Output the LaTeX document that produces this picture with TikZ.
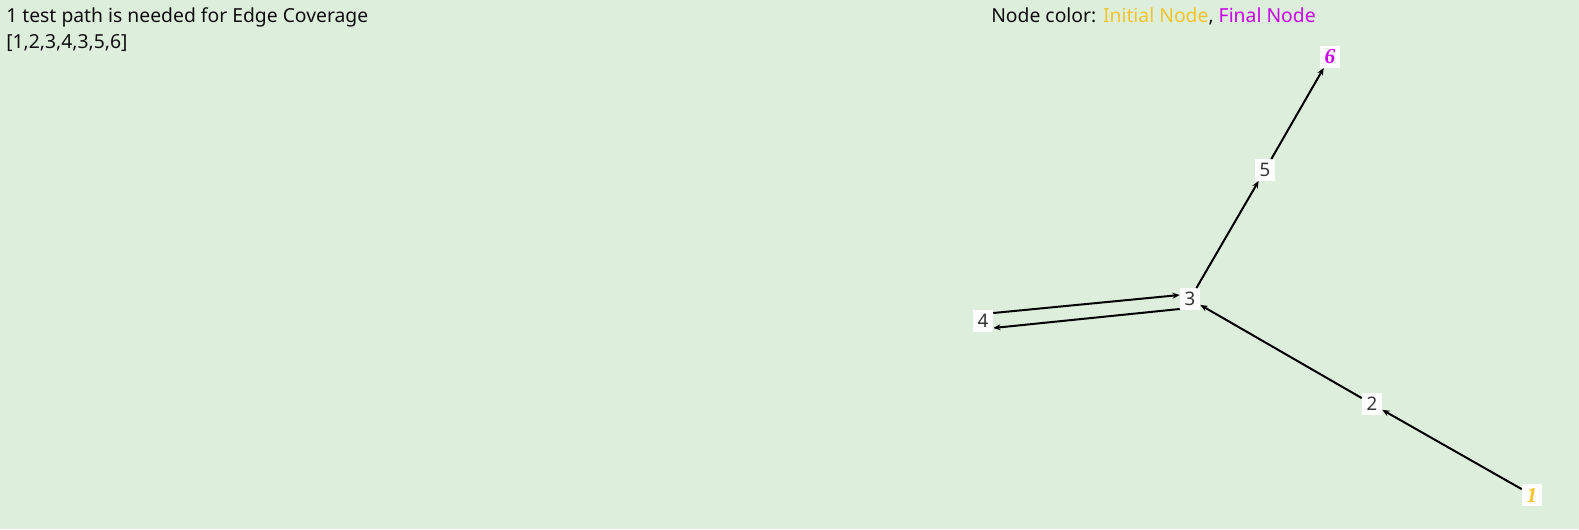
\documentclass[tikz,border=0pt]{standalone}
\usepackage{fontspec}
\setmainfont{Noto Sans}
\newfontfamily\numfont{Liberation Serif}
\usetikzlibrary{arrows.meta,calc}
\definecolor{bgc}{RGB}{221,238,221}
\definecolor{initc}{RGB}{246,196,40}
\definecolor{finalc}{RGB}{200,0,232}
\definecolor{txtc}{RGB}{15,15,15}
\tikzset{
  vbox/.style={fill=white,inner sep=2pt,minimum width=15pt,minimum height=16pt,font=\fontsize{14}{16}\selectfont,text=black!80},
  ebox/.style={vbox,font=\fontsize{16}{16}\numfont\bfseries\itshape},
  edge/.style={draw=black,line width=1.5pt,-{Stealth[length=5.5pt,width=4.5pt]}},
  lbl/.style={anchor=base west,inner sep=0pt,font=\fontsize{14.5}{16}\selectfont,text=txtc}
}
\begin{document}
\begin{tikzpicture}[x=0.75pt,y=-0.75pt]
\fill[bgc] (0,0) rectangle (1579,529);
\useasboundingbox (0,0) rectangle (1579,529);
\node[lbl] (t1) at (6,22) {1 test path is needed for Edge Coverage};
\node[lbl] (t2) at (6,48) {[1,2,3,4,3,5,6]};
\node[lbl] (t3) at (991,22) {Node color: \textcolor{initc}{Initial Node}, \textcolor{finalc}{Final Node}};
\node[ebox,text=finalc] (n6) at (1330,57) {6};
\node[vbox] (n5) at (1265,170) {5};
\node[vbox] (n3) at (1190,299) {3};
\node[vbox] (n4) at (983,321) {4};
\node[vbox] (n2) at (1372,404) {2};
\node[ebox,text=initc] (n1) at (1532,495) {1};
\draw[edge] (n1) -- (n2);
\draw[edge] (n2) -- (n3);
\draw[edge] (n3) -- (n5);
\draw[edge] (n5) -- (n6);
\draw[edge] ($(n4.east)+(0,-8)$) -- ($(n3.west)+(0,-4)$);
\draw[edge] ($(n3.west)+(0,10)$) -- ($(n4.east)+(0,7)$);
\end{tikzpicture}
\end{document}
